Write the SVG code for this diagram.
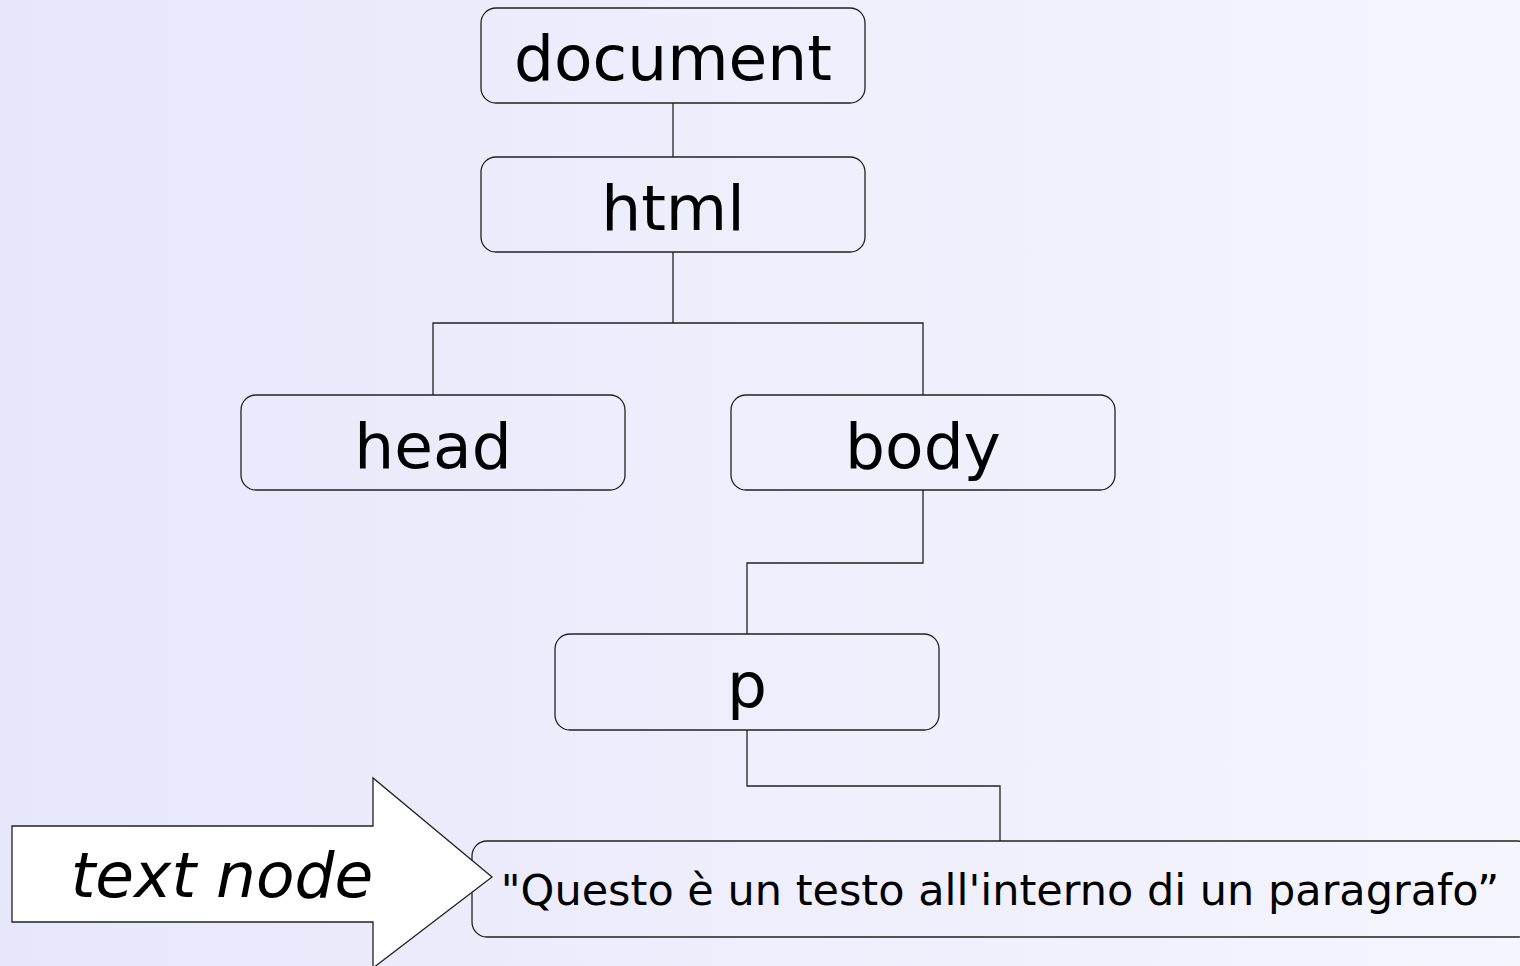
<svg xmlns="http://www.w3.org/2000/svg" width="1520" height="966" viewBox="0 0 1520 966">
<defs>
<linearGradient id="bg" x1="0" y1="0" x2="1" y2="0">
<stop offset="0" stop-color="#e7e7fb"/>
<stop offset="1" stop-color="#f5f5fe"/>
</linearGradient>
<style>
.box{fill:none;stroke:#222;stroke-width:1.3}
.lbl{font-family:"DejaVu Sans",Verdana,sans-serif;font-size:63px;fill:#000;text-anchor:middle}
.conn{fill:none;stroke:#222;stroke-width:1.3}
</style>
</defs>
<rect x="0" y="0" width="1520" height="966" fill="url(#bg)"/>
<g id="connectors">
<path class="conn" d="M673,103 V157"/>
<path class="conn" d="M673,252 V323 M433,395 V323 H923 V395"/>
<path class="conn" d="M923,490 V563 H747 V634"/>
<path class="conn" d="M747,730 V786 H1000 V841"/>
</g>
<g id="document"><rect class="box" x="481" y="8" width="384" height="95" rx="15"/><text class="lbl" x="673" y="80">document</text></g>
<g id="html"><rect class="box" x="481" y="157" width="384" height="95" rx="15"/><text class="lbl" x="673" y="230">html</text></g>
<g id="head"><rect class="box" x="241" y="395" width="384" height="95" rx="15"/><text class="lbl" x="433" y="468">head</text></g>
<g id="body"><rect class="box" x="731" y="395" width="384" height="95" rx="15"/><text class="lbl" x="923" y="468">body</text></g>
<g id="p"><rect class="box" x="555" y="634" width="384" height="96" rx="15"/><text class="lbl" x="747" y="707">p</text></g>
<g id="textnode"><rect class="box" x="472" y="841" width="1060" height="96" rx="15"/><text class="lbl" style="font-size:43px" x="1000" y="905">"Questo è un testo all'interno di un paragrafo”</text></g>
<g id="callout"><polygon points="12,826 373,826 373,778 492,877 373,968 373,922 12,922" fill="#fff" stroke="#222" stroke-width="1.3"/><text class="lbl" style="font-style:italic" x="222" y="897">text node</text></g>
</svg>
